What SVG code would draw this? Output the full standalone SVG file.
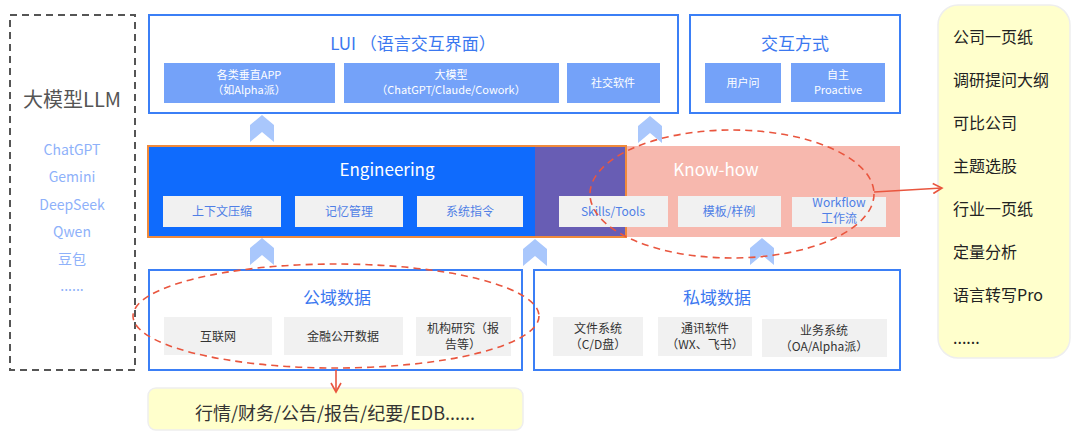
<svg xmlns="http://www.w3.org/2000/svg" width="1080" height="434" viewBox="0 0 1080 434">
<defs>
<style>
text{font-family:"Noto Sans CJK SC","Noto Sans",sans-serif;}
.frame{fill:#fff;stroke:#3b7ff6;stroke-width:2;}
.sub{fill:#74a2f9;}
.subt{fill:#fff;font-size:11px;text-anchor:middle;}
.title{fill:#3b78f0;font-size:17px;text-anchor:middle;}
.gray{fill:#f1f1f1;}
.bt{fill:#4f7fe6;font-size:12px;text-anchor:middle;}
.dt{fill:#333;font-size:12px;text-anchor:middle;}
.model{fill:#8eb1fa;font-size:14px;text-anchor:middle;}
.out{fill:#222;font-size:16px;}
.chev{fill:#a9c7fc;}
.red{fill:none;stroke:#e9563f;stroke-width:1.6;stroke-dasharray:7 5;}
.redl{fill:none;stroke:#e9563f;stroke-width:1.6;}
</style>
<marker id="ah" markerWidth="12" markerHeight="12" refX="10" refY="6" orient="auto" markerUnits="userSpaceOnUse">
<path d="M1,1 L10,6 L1,11" fill="none" stroke="#e9563f" stroke-width="1.6"/>
</marker>
<polygon id="chevron" points="-12,10 0,0 12,10 12,27 0,17 -12,27"/>
</defs>

<g id="llm">
<rect x="10" y="15" width="125" height="355" fill="#fff" stroke="#555" stroke-width="2" stroke-dasharray="7 5"/>
<text x="72" y="107" fill="#555" font-size="20" text-anchor="middle">大模型LLM</text>
<text class="model" x="72" y="155">ChatGPT</text>
<text class="model" x="72" y="182">Gemini</text>
<text class="model" x="72" y="210">DeepSeek</text>
<text class="model" x="72" y="237">Qwen</text>
<text class="model" x="72" y="264">豆包</text>
<text class="model" x="72" y="291">......</text>
</g>

<g id="lui">
<rect class="frame" x="149" y="15" width="529" height="98"/>
<text class="title" x="413" y="50">LUI （语言交互界面）</text>
<rect class="sub" x="164" y="63" width="171" height="40"/>
<text class="subt" x="249" y="79">各类垂直APP</text>
<text class="subt" x="249" y="94">（如Alpha派）</text>
<rect class="sub" x="344" y="63" width="215" height="40"/>
<text class="subt" x="451" y="79">大模型</text>
<text class="subt" x="451" y="94">（ChatGPT/Claude/Cowork）</text>
<rect class="sub" x="567" y="63" width="93" height="40"/>
<text class="subt" x="613" y="87">社交软件</text>
</g>

<g id="interaction">
<rect class="frame" x="690" y="15" width="210" height="98"/>
<text class="title" x="795" y="50">交互方式</text>
<rect class="sub" x="705" y="63" width="76" height="40"/>
<text class="subt" x="743" y="87">用户问</text>
<rect class="sub" x="791" y="63" width="94" height="39"/>
<text class="subt" x="838" y="79">自主</text>
<text class="subt" x="838" y="94">Proactive</text>
</g>

<g id="engineering">
<rect x="626" y="146" width="274" height="91" fill="#f7b8ae"/>
<rect x="148" y="146" width="387" height="91" fill="#0f6bfd"/>
<rect x="535" y="146" width="91" height="91" fill="#685db4"/>
<rect x="148" y="146" width="478" height="91" fill="none" stroke="#f08a3c" stroke-width="2"/>
<text x="387" y="176" fill="#fff" font-size="17" text-anchor="middle">Engineering</text>
<text x="716" y="176" fill="#fff" font-size="17" text-anchor="middle">Know-how</text>
<rect class="gray" x="163" y="196" width="118" height="31"/>
<text class="bt" x="222" y="216">上下文压缩</text>
<rect class="gray" x="295" y="196" width="108" height="31"/>
<text class="bt" x="349" y="216">记忆管理</text>
<rect class="gray" x="417" y="196" width="106" height="31"/>
<text class="bt" x="470" y="216">系统指令</text>
<rect class="gray" x="559" y="196" width="109" height="31"/>
<text class="bt" x="613" y="216">Skills/Tools</text>
<rect class="gray" x="678" y="196" width="103" height="31"/>
<text class="bt" x="729" y="216">模板/样例</text>
<rect class="gray" x="792" y="197" width="94" height="30"/>
<text class="bt" x="839" y="207" font-size="9">Workflow</text>
<text class="bt" x="839" y="223" font-size="9">工作流</text>
</g>

<g id="public">
<rect class="frame" x="149" y="270" width="373" height="100"/>
<text class="title" x="337" y="304">公域数据</text>
<rect class="gray" x="164" y="317" width="108" height="38"/>
<text class="dt" x="218" y="341">互联网</text>
<rect class="gray" x="284" y="317" width="119" height="38"/>
<text class="dt" x="343" y="341">金融公开数据</text>
<rect class="gray" x="416" y="317" width="95" height="39"/>
<text class="dt" x="463" y="333">机构研究（报</text>
<text class="dt" x="463" y="349">告等）</text>
</g>

<g id="private">
<rect class="frame" x="534" y="270" width="366" height="100"/>
<text class="title" x="717" y="304">私域数据</text>
<rect class="gray" x="553" y="317" width="90" height="39"/>
<text class="dt" x="598" y="333">文件系统</text>
<text class="dt" x="598" y="349">（C/D盘）</text>
<rect class="gray" x="658" y="317" width="94" height="39"/>
<text class="dt" x="705" y="333">通讯软件</text>
<text class="dt" x="705" y="349">（WX、飞书）</text>
<rect class="gray" x="762" y="319" width="125" height="38"/>
<text class="dt" x="824" y="335">业务系统</text>
<text class="dt" x="824" y="351">（OA/Alpha派）</text>
</g>

<g id="outputs">
<rect x="938" y="5" width="132" height="353" rx="20" fill="#ffffcc" stroke="#eeeeee" stroke-width="1.5"/>
<text class="out" x="953" y="43">公司一页纸</text>
<text class="out" x="953" y="86">调研提问大纲</text>
<text class="out" x="953" y="129">可比公司</text>
<text class="out" x="953" y="172">主题选股</text>
<text class="out" x="953" y="215">行业一页纸</text>
<text class="out" x="953" y="258">定量分析</text>
<text class="out" x="953" y="301">语言转写Pro</text>
<text class="out" x="953" y="344">......</text>
</g>

<g id="sources">
<rect x="148" y="388" width="375" height="42" rx="8" fill="#ffffcc" stroke="#eeeeee" stroke-width="1.5"/>
<text x="335" y="420" fill="#333" font-size="18" text-anchor="middle">行情/财务/公告/报告/纪要/EDB......</text>
</g>

<g id="connectors">
<use href="#chevron" class="chev" x="262" y="115"/>
<use href="#chevron" class="chev" x="650" y="116"/>
<use href="#chevron" class="chev" x="262" y="238"/>
<use href="#chevron" class="chev" x="535" y="239"/>
<use href="#chevron" class="chev" x="762" y="238"/>
<ellipse class="red" cx="732" cy="194" rx="142" ry="64"/>
<ellipse class="red" cx="336" cy="316" rx="203" ry="52"/>
<path class="redl" d="M874,192 L942,188" marker-end="url(#ah)"/>
<path class="redl" d="M336,370 L336,392" marker-end="url(#ah)"/>
</g>
</svg>
